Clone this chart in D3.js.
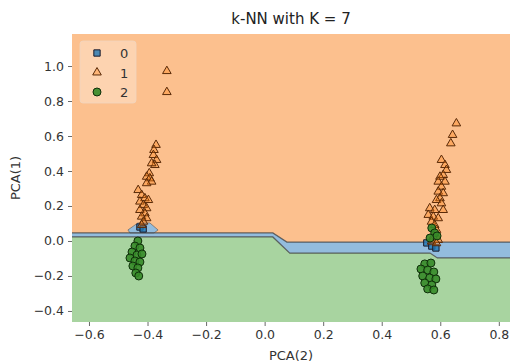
<!DOCTYPE html>
<html>
<head>
<meta charset="utf-8">
<script src="https://cdn.jsdelivr.net/npm/d3@7"></script>
<style>
  body { margin: 0; background: #fff; }
  text { font-family: "DejaVu Sans", sans-serif; }
</style>
</head>
<body>
<script>
// class 0 = square, class 1 = triangle, class 2 = circle
const class0 = [[-0.426, 0.080], [-0.415, 0.069], [0.554, -0.011], [0.571, -0.029], [0.585, -0.040]];

const class1 = [
  [-0.371, 0.549], [-0.378, 0.520], [-0.380, 0.491], [-0.369, 0.463], [-0.375, 0.434],
  [-0.386, 0.444], [-0.394, 0.387], [-0.403, 0.367], [-0.392, 0.358], [-0.386, 0.339],
  [-0.403, 0.330], [-0.432, 0.291], [-0.420, 0.263], [-0.409, 0.244], [-0.397, 0.234],
  [-0.426, 0.225], [-0.414, 0.206], [-0.403, 0.187], [-0.426, 0.177], [-0.409, 0.158],
  [-0.420, 0.139], [-0.403, 0.130], [-0.414, 0.110], [-0.420, 0.091],
  [-0.334, 0.971], [-0.334, 0.851],
  [0.655, 0.672], [0.642, 0.606], [0.636, 0.558], [0.604, 0.463], [0.616, 0.434],
  [0.621, 0.406], [0.610, 0.377], [0.599, 0.367], [0.593, 0.339], [0.616, 0.339],
  [0.604, 0.310], [0.593, 0.282], [0.610, 0.273], [0.599, 0.244], [0.587, 0.234],
  [0.604, 0.215], [0.564, 0.187], [0.581, 0.177], [0.610, 0.177], [0.559, 0.149],
  [0.576, 0.139], [0.593, 0.130], [0.570, 0.110], [0.581, 0.091], [0.587, 0.063],
  [0.576, 0.025], [0.593, 0.006], [0.570, -0.004], [0.587, -0.013]
];

const class2 = [
  [-0.433, 0.000], [-0.443, -0.029], [-0.426, -0.040], [-0.453, -0.063], [-0.436, -0.080],
  [-0.419, -0.074], [-0.460, -0.097], [-0.443, -0.114], [-0.426, -0.120], [-0.450, -0.143],
  [-0.433, -0.154], [-0.440, -0.183], [-0.430, -0.200],
  [0.571, 0.074], [0.581, 0.046], [0.565, 0.017], [0.589, 0.029],
  [0.547, -0.131], [0.568, -0.126], [0.534, -0.160], [0.557, -0.166], [0.578, -0.177],
  [0.540, -0.200], [0.564, -0.211], [0.585, -0.217], [0.547, -0.240], [0.571, -0.251],
  [0.557, -0.274], [0.578, -0.280]
];

// decision boundaries
const upperBoundary = [[-0.66, 0.046], [0.028, 0.046], [0.076, -0.006], [0.85, -0.006]];
const lowerBoundary = [[-0.66, 0.023], [0.028, 0.023], [0.086, -0.069], [0.565, -0.069], [0.59, -0.097], [0.85, -0.097]];
const blueIsland = [[-0.433, 0.103], [-0.392, 0.103], [-0.364, 0.063], [-0.378, 0.046], [-0.460, 0.046], [-0.467, 0.063]];

const xTicks = [-0.6, -0.4, -0.2, 0.0, 0.2, 0.4, 0.6, 0.8];
const yTicks = [-0.4, -0.2, 0.0, 0.2, 0.4, 0.6, 0.8, 1.0];
const classLabels = ["0", "1", "2"];

const W = 510, H = 363;
const plot = { left: 72, right: 512, top: 34, bottom: 322 };
const xDom = [-0.658, 0.845], yDom = [-0.463, 1.183];

const x = d3.scaleLinear().domain(xDom).range([plot.left, plot.right]);
const y = d3.scaleLinear().domain(yDom).range([plot.bottom, plot.top]);

const col = { c0: "#1f77b4", c1: "#ff7f0e", c2: "#358a28" };
const bg = { c0: "#93bcdd", c1: "#fcc08e", c2: "#a8d4a0" };
const edge = { c0: "#1a1a2a", c1: "#5a2a08", c2: "#0f2e0a" };

const svg = d3.select("body").append("svg").attr("width", W).attr("height", H);

svg.append("clipPath").attr("id", "clip")
  .append("rect")
  .attr("x", plot.left).attr("y", plot.top)
  .attr("width", plot.right - plot.left).attr("height", plot.bottom - plot.top);

const g = svg.append("g").attr("clip-path", "url(#clip)");
const line = d3.line().x(d => x(d[0])).y(d => y(d[1]));

// regions
const orangePoly = [[xDom[0] - 0.1, yDom[1] + 0.1], [xDom[1] + 0.1, yDom[1] + 0.1]].concat(upperBoundary.slice().reverse());
const greenPoly = [[xDom[0] - 0.1, yDom[0] - 0.1], [xDom[1] + 0.1, yDom[0] - 0.1]].concat(lowerBoundary.slice().reverse());
const bluePoly = upperBoundary.concat(lowerBoundary.slice().reverse());

g.append("path").attr("d", line(orangePoly) + "Z").attr("fill", bg.c1);
g.append("path").attr("d", line(greenPoly) + "Z").attr("fill", bg.c2);
g.append("path").attr("d", line(bluePoly) + "Z").attr("fill", bg.c0);
g.append("path").attr("d", line(blueIsland) + "Z").attr("fill", bg.c0)
  .attr("stroke", "#555").attr("stroke-width", 0.6);

[upperBoundary, lowerBoundary].forEach(b => {
  g.append("path").attr("d", line(b)).attr("fill", "none")
    .attr("stroke", "#444").attr("stroke-width", 1.2).attr("stroke-opacity", 0.8);
});

// markers
const sq = d3.symbol().type(d3.symbolSquare).size(40);
const tri = d3.symbol().type(d3.symbolTriangle).size(32);
const circ = d3.symbol().type(d3.symbolCircle).size(50);

function drawPoints(data, sym, fill, fo, stroke) {
  g.selectAll(null).data(data).join("path")
    .attr("d", sym)
    .attr("transform", d => `translate(${x(d[0])},${y(d[1])})`)
    .attr("fill", fill).attr("fill-opacity", fo)
    .attr("stroke", stroke).attr("stroke-width", 1);
}
drawPoints(class0, sq, col.c0, 0.8, edge.c0);
drawPoints(class1, tri, col.c1, 0.35, edge.c1);
drawPoints(class2, circ, col.c2, 0.9, edge.c2);

// axes
const fmt = d => d3.format(".1f")(d).replace("-", "\u2212");
const xAxis = svg.append("g").attr("transform", `translate(0,${plot.bottom})`)
  .call(d3.axisBottom(x).tickValues(xTicks).tickSize(4).tickPadding(4).tickFormat(fmt));
const yAxis = svg.append("g").attr("transform", `translate(${plot.left},0)`)
  .call(d3.axisLeft(y).tickValues(yTicks).tickSize(4).tickPadding(4).tickFormat(fmt));
[xAxis, yAxis].forEach(a => {
  a.select(".domain").remove();
  a.selectAll(".tick line").attr("stroke", "#444").attr("stroke-width", 0.8);
  a.selectAll(".tick text").attr("fill", "#333").style("font-size", "12.5px")
    .style("font-family", "DejaVu Sans");
});

svg.append("text").attr("x", (plot.left + 510) / 2).attr("y", 360)
  .attr("text-anchor", "middle").attr("font-size", 13).attr("fill", "#333").text("PCA(2)");
svg.append("text").attr("transform", `translate(20,${(plot.top + plot.bottom) / 2}) rotate(-90)`)
  .attr("text-anchor", "middle").attr("font-size", 13).attr("fill", "#333").text("PCA(1)");
svg.append("text").attr("x", (plot.left + 510) / 2).attr("y", 24)
  .attr("text-anchor", "middle").attr("font-size", 15).attr("fill", "#222").text("k-NN with K = 7");

// legend
const leg = svg.append("g");
leg.append("rect").attr("x", 80).attr("y", 41).attr("width", 56).attr("height", 62).attr("rx", 3)
  .attr("fill", "#fff").attr("fill-opacity", 0.3).attr("stroke", "#f0d6c0").attr("stroke-width", 0.8);
const legSyms = [sq, tri, circ];
const legCols = [col.c0, col.c1, col.c2];
const legOp = [0.8, 0.35, 0.9];
const legEdge = [edge.c0, edge.c1, edge.c2];
classLabels.forEach((lab, i) => {
  const ly = 53 + i * 19.5;
  leg.append("path").attr("d", legSyms[i]).attr("transform", `translate(97,${ly})`)
    .attr("fill", legCols[i]).attr("fill-opacity", legOp[i]).attr("stroke", legEdge[i]).attr("stroke-width", 1);
  leg.append("text").attr("x", 120).attr("y", ly + 5).attr("font-size", 13)
    .attr("fill", "#333").text(lab);
});
</script>
</body>
</html>
